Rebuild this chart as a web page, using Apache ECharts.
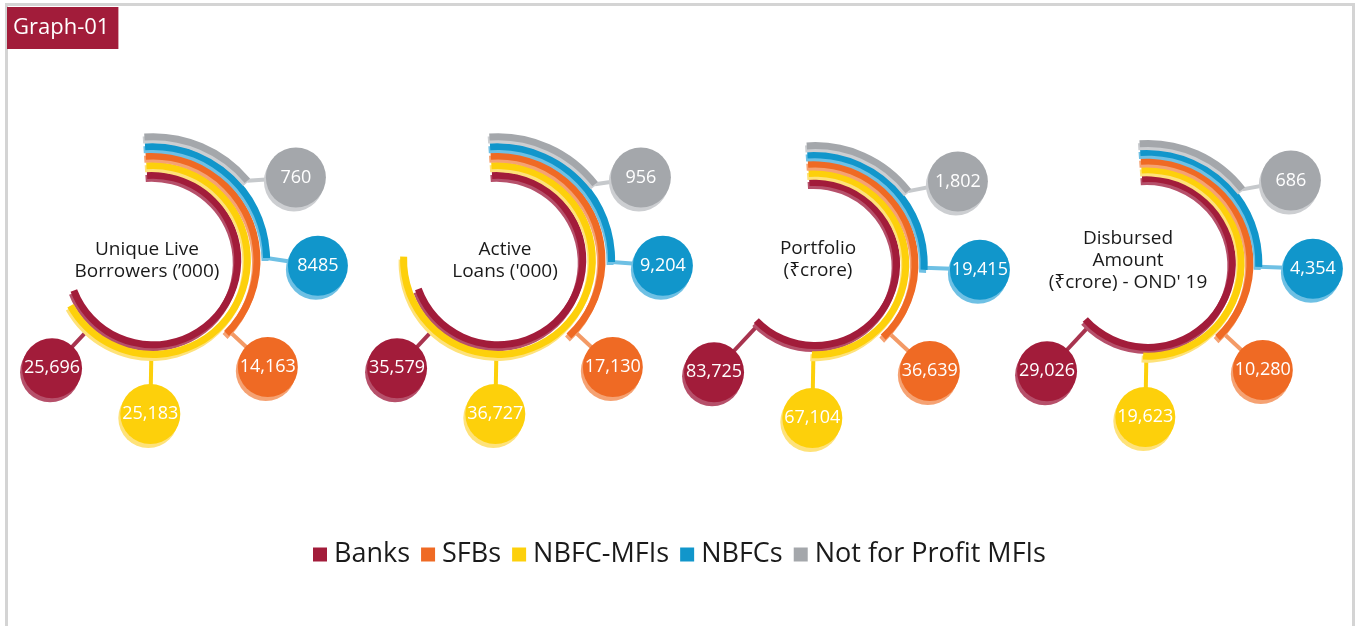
<!DOCTYPE html>
<html>
<head>
<meta charset="utf-8">
<script src="https://cdn.jsdelivr.net/npm/echarts@6/dist/echarts.min.js"></script>
<style>
  html, body { margin: 0; padding: 0; background: #fff; }
  #frame { position: absolute; left: 5px; top: 3px; width: 1350px; height: 660px; border: 3px solid #d4d4d4; box-sizing: border-box; }
  #main { position: absolute; left: 0; top: 0; width: 1359px; height: 626px; }
</style>
</head>
<body>
<div id="frame"></div>
<div id="main"></div>
<script>
// legend order
var groups = ['Banks', 'SFBs', 'NBFC-MFIs', 'NBFCs', 'Not for Profit MFIs'];
// rings from inside to outside
var rings = ['Banks', 'NBFC-MFIs', 'SFBs', 'NBFCs', 'Not for Profit MFIs'];
var panels = ["Unique Live\nBorrowers (\u2019000)", "Active\nLoans ('000)", 'Portfolio\n(\u20b9crore)', "Disbursed\nAmount\n(\u20b9crore) - OND' 19"];

// values printed in the bubbles, one per panel
var banks = [25696, 35579, 83725, 29026];
var sfbs = [14163, 17130, 36639, 10280];
var nbfcMfis = [25183, 36727, 67104, 19623];
var nbfcs = [8485, 9204, 19415, 4354];
var npf = [760, 956, 1802, 686];

// ring sweep as drawn in the source (degrees from the ring start)
var arcBanks = [253, 254, 230, 232];
var arcSfbs = [139, 141, 141, 141];
var arcNbfcMfis = [245, 276, 186, 187];
var arcNbfcs = [93, 95, 97, 96];
var arcNpf = [54, 56, 56, 56];

var values = {'Banks': banks, 'SFBs': sfbs, 'NBFC-MFIs': nbfcMfis, 'NBFCs': nbfcs, 'Not for Profit MFIs': npf};
var arcs = {'Banks': arcBanks, 'SFBs': arcSfbs, 'NBFC-MFIs': arcNbfcMfis, 'NBFCs': arcNbfcs, 'Not for Profit MFIs': arcNpf};

// main, light (3d edge), connector
var colors = {
  'Banks': ['#a21c3a', '#b6506a', '#a8344f'],
  'SFBs': ['#ef6a24', '#f5a273', '#f39a66'],
  'NBFC-MFIs': ['#fdd00b', '#fee27a', '#fdd00b'],
  'NBFCs': ['#1196cb', '#6ec0e4', '#6ec0e4'],
  'Not for Profit MFIs': ['#a4a7ab', '#ccced1', '#c6c9cc']
};

// layout
var centers = [[153, 260], [498, 260], [815, 264], [1148, 263]];
var radii = [[80, 128], [80, 128], [77, 123], [80, 124]];
var titlePos = [[147, 261], [505, 261], [818, 260], [1128, 261]];
var bubbleAngle = [227, 185, 137, 96, 64];   // per ring, in axis degrees
var bubbleDist = [148, 154, 157, 165, 165];

var font = '"Open Sans", "Noto Sans", sans-serif';

function fmt(v, p, ring) {
  // the source prints 8485 without a separator
  if (p === 0 && ring === 3) return String(v);
  return v.toString().replace(/\B(?=(\d{3})+(?!\d))/g, ',');
}

var polar = [], angleAxis = [], radiusAxis = [], series = [], graphic = [];

panels.forEach(function (title, p) {
  polar.push({center: centers[p], radius: radii[p]});
  angleAxis.push({polarIndex: p, type: 'value', min: 0, max: 360, startAngle: 94, clockwise: true, show: false});
  radiusAxis.push({polarIndex: p, type: 'category', data: rings, show: false});

  rings.forEach(function (name) {
    series.push({
      type: 'bar',
      name: name,
      coordinateSystem: 'polar',
      polarIndex: p,
      stack: 'panel' + p,
      barWidth: 7,
      silent: true,
      data: rings.map(function (r) { return r === name ? arcs[name][p] : '-'; }),
      itemStyle: {
        color: colors[name][0],
        shadowColor: colors[name][1],
        shadowBlur: 0,
        shadowOffsetX: -1.5,
        shadowOffsetY: 3
      }
    });
  });

  series.push({
    type: 'custom',
    coordinateSystem: 'polar',
    polarIndex: p,
    silent: true,
    z: 1,
    data: rings.map(function (name, i) { return [i, arcs[name][p], values[name][p]]; }),
    renderItem: function (params, api) {
      var ring = api.value(0), sweep = api.value(1), val = api.value(2);
      var c = colors[rings[ring]];
      var cx = params.coordSys.cx, cy = params.coordSys.cy;
      var a = bubbleAngle[ring];
      var from = api.coord([ring, Math.min(sweep, a)]);
      var dirPt = api.coord([ring, a]);
      var dx = dirPt[0] - cx, dy = dirPt[1] - cy;
      var len = Math.sqrt(dx * dx + dy * dy);
      var bx = cx + dx / len * bubbleDist[ring];
      var by = cy + dy / len * bubbleDist[ring];
      return {
        type: 'group',
        children: [
          {type: 'line', shape: {x1: from[0], y1: from[1], x2: bx, y2: by},
            style: {stroke: c[2], lineWidth: 4}},
          {type: 'circle', shape: {cx: bx, cy: by, r: 30},
            style: {fill: c[0], shadowColor: c[1], shadowBlur: 0, shadowOffsetX: -2, shadowOffsetY: 4}},
          {type: 'text', x: bx, y: by,
            style: {text: fmt(val, p, ring), fill: '#fff', font: '18px ' + font, align: 'center', verticalAlign: 'middle'}}
        ]
      };
    }
  });

  graphic.push({
    type: 'text',
    x: titlePos[p][0],
    y: titlePos[p][1],
    silent: true,
    style: {
      text: title,
      fill: '#1a1a1a',
      font: '19px ' + font,
      lineHeight: 22,
      align: 'center',
      verticalAlign: 'middle'
    }
  });
});

var myChart = echarts.init(document.getElementById('main'));
var option = {
  animation: false,
  title: {
    text: 'Graph-01',
    left: 7,
    top: 7,
    backgroundColor: '#a21c3a',
    padding: [10, 9, 10, 6],
    textStyle: {color: '#fff', fontSize: 22, fontWeight: 'normal', fontFamily: font}
  },
  legend: {
    data: groups,
    left: 'center',
    top: 536,
    icon: 'rect',
    itemWidth: 14,
    itemHeight: 14,
    itemGap: 11,
    selectedMode: false,
    textStyle: {fontSize: 27, color: '#1a1a1a', fontFamily: font, padding: [0, 0, 0, 2]}
  },
  polar: polar,
  angleAxis: angleAxis,
  radiusAxis: radiusAxis,
  graphic: graphic,
  series: series
};
myChart.setOption(option);
</script>
</body>
</html>
